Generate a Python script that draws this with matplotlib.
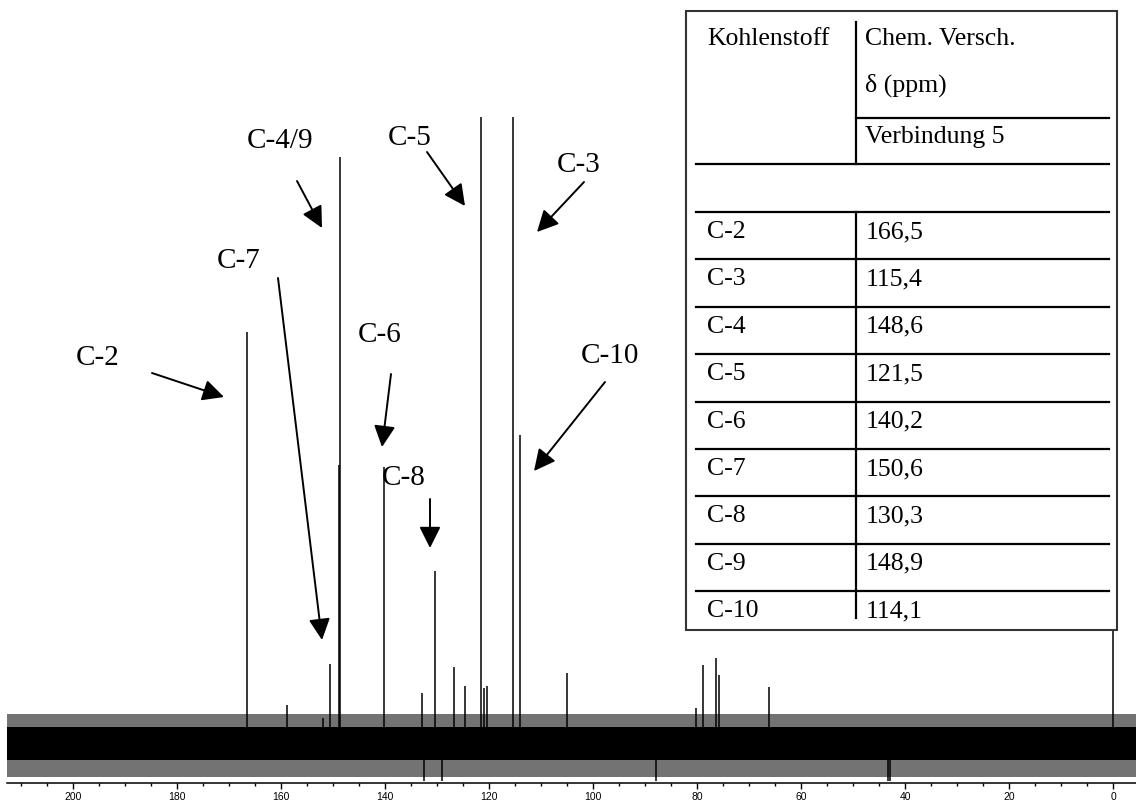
import matplotlib.pyplot as plt
from matplotlib.patches import Rectangle, FancyArrowPatch
from matplotlib.lines import Line2D

# Zuordnung (Tabelle)
carbons = ['C-2', 'C-3', 'C-4', 'C-5', 'C-6', 'C-7', 'C-8', 'C-9', 'C-10']
shifts = ['166,5', '115,4', '148,6', '121,5', '140,2', '150,6', '130,3', '148,9', '114,1']
# Peakhoehen der zugeordneten Signale (willk. Einheiten, aus dem Bild gelesen)
peak_height = [412, 627, 587, 627, 277, 80, 173, 279, 309]

# weitere kleine Signale + TMS
extra_ppm = [158.9, 152.0, 132.9, 126.7, 124.6, 121.0, 120.4, 105.0, 80.2, 78.8, 76.3, 75.8, 66.2, 0.0]
extra_height = [39, 26, 51, 77, 58, 56, 58, 71, 36, 79, 86, 69, 57, 644]
# negative Ausschlaege
dip_ppm = [132.5, 129.0, 87.9, 43.2, 42.8]
dip_depth = [-37, -37, -37, -37, -37]

noise_core = (-16, 17)
noise_edge = (-33, 30)

tick_major = list(range(0, 201, 20))
tick_minor = list(range(0, 211, 5))

W, H = 1136, 802


def fx(x):
    return x / W


def fy(y):
    return 1 - y / H


fig = plt.figure(figsize=(W / 100, H / 100), dpi=100)

ax = fig.add_axes([fx(7), fy(783), 1 - fx(7), 783 / H])
ax.set_xlim(212.7, -4.42)
ax.set_ylim(-39, 744)

# Rauschband
ax.fill_between([212.7, -4.42], noise_edge[0], noise_edge[1], color='0.45', linewidth=0)
ax.fill_between([212.7, -4.42], noise_core[0], noise_core[1], color='black', linewidth=0)

ppm = [float(s.replace(',', '.')) for s in shifts]
ax.vlines(ppm, 0, peak_height, color='black', lw=1.1)
ax.vlines(extra_ppm, 0, extra_height, color='black', lw=1.1)
ax.vlines(dip_ppm, 0, dip_depth, color='black', lw=1.1)

for s in ['top', 'left', 'right']:
    ax.spines[s].set_visible(False)
ax.spines['bottom'].set_linewidth(1.1)
ax.set_yticks([])
ax.set_xticks(tick_major)
ax.set_xticks(tick_minor, minor=True)
ax.tick_params(axis='x', which='major', direction='out', length=4, width=1,
               labelsize=7.5, pad=2.5)
ax.tick_params(axis='x', which='minor', direction='out', length=2.5, width=1)
for lab in ax.get_xticklabels():
    lab.set_family('Liberation Sans')

# Beschriftungen mit Pfeilen
labels = ['C-2', 'C-7', 'C-4/9', 'C-6', 'C-8', 'C-5', 'C-3', 'C-10']
label_pos = [(98, 365), (239, 268), (280, 148), (380, 342), (404, 485), (410, 145), (579, 172), (610, 363)]
arrows = [((152, 373), (224, 397)), ((278, 278), (322, 640)), ((297, 181), (322, 228)),
          ((391, 374), (382, 447)), ((430, 499), (430, 548)), ((427, 152), (465, 206)),
          ((584, 182), (537, 232)), ((605, 382), (534, 471))]

for t, (x, y) in zip(labels, label_pos):
    fig.text(fx(x), fy(y), t, family='Liberation Serif', fontsize=21,
             ha='center', va='baseline')
for (a, b) in arrows:
    fig.patches.append(FancyArrowPatch(posA=(fx(a[0]), fy(a[1])), posB=(fx(b[0]), fy(b[1])),
                                       transform=fig.transFigure,
                                       arrowstyle='-|>,head_length=1.3,head_width=0.65',
                                       mutation_scale=10, lw=1.4, color='black',
                                       shrinkA=0, shrinkB=0, zorder=5))

# Tabelle
fig.patches.append(Rectangle((fx(686), fy(630)), fx(1117) - fx(686), fy(11) - fy(630),
                             transform=fig.transFigure, facecolor='white',
                             edgecolor='#333333', lw=1.5, zorder=10))


def hline(y, x0=696, x1=1109):
    fig.add_artist(Line2D([fx(x0), fx(x1)], [fy(y), fy(y)], color='black', lw=1.6, zorder=11))


def vline(x, y0, y1):
    fig.add_artist(Line2D([fx(x), fx(x)], [fy(y0), fy(y1)], color='black', lw=1.6, zorder=11))


vline(856, 22, 164)
vline(856, 212, 618)
hline(118, 856, 1109)
hline(164)
row_top = [212 + 47.4 * i for i in range(len(carbons))]
for y in row_top:
    hline(y)

tkw = dict(family='Liberation Serif', fontsize=18.5, va='baseline', ha='left', zorder=12)
fig.text(fx(707), fy(45), 'Kohlenstoff', **tkw)
fig.text(fx(865), fy(45), 'Chem. Versch.', **tkw)
fig.text(fx(865), fy(92), 'δ (ppm)', **tkw)
fig.text(fx(865), fy(143), 'Verbindung 5', **tkw)
for c, s, y in zip(carbons, shifts, row_top):
    fig.text(fx(707), fy(y + 26), c, **tkw)
    fig.text(fx(866), fy(y + 26), s, **tkw)

fig.savefig('out.png', dpi=100)
